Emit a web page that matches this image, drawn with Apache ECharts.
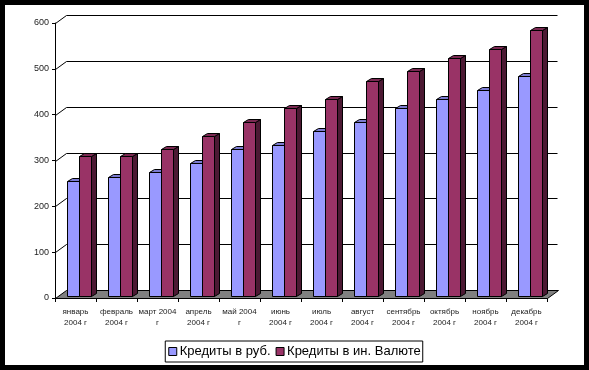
<!DOCTYPE html>
<html>
<head>
<meta charset="utf-8">
<script src="https://cdn.jsdelivr.net/npm/echarts@6/dist/echarts.min.js"></script>
<style>
html,body{margin:0;padding:0;background:#000;}
#paper{position:absolute;left:5px;top:5px;width:579px;height:360px;background:#fff;}
#chart{position:absolute;left:0;top:0;width:589px;height:370px;}
</style>
</head>
<body>
<div id="paper"></div>
<div id="chart"></div>
<script>
const categories = ["январь\n2004 г","февраль\n2004 г","март 2004\nг","апрель\n2004 г","май 2004\nг","июнь\n2004 г","июль\n2004 г","август\n2004 г","сентябрь\n2004 г","октябрь\n2004 г","ноябрь\n2004 г","декабрь\n2004 г"];
const rubCredits = [250,260,270,290,320,330,360,380,410,430,450,480];
const fxCredits = [305,305,320,350,380,410,430,470,490,520,540,580];
const yTicks = [0,100,200,300,400,500,600];
const seriesNames = ["Кредиты в руб.","Кредиты в ин. Валюте"];

const DX = 11, DY = -8;        // wall depth
const BDX = 5, BDY = -3;       // bar depth
const faces = [
  {front:'#9999FF', top:'#7B7BD0', side:'#5C5CA0'},
  {front:'#993366', top:'#7A2952', side:'#4C1933'}
];

function wallItem(params, api){
  const cs = params.coordSys;
  const v = api.value(0);
  const y = Math.round(api.coord([0, v])[1]) + 0.5;
  const x0 = cs.x + 0.5, x1 = cs.x + cs.width + 0.5;
  if (v === 0) {
    return {type:'polygon', shape:{points:[[x0,y],[x1,y],[x1+DX,y+DY],[x0+DX,y+DY]]},
      style:{fill:'#808080', stroke:'#000', lineWidth:1}};
  }
  return {type:'polyline', shape:{points:[[x0,y],[x0+DX,y+DY],[x1+DX-1,y+DY]]},
    style:{fill:null, stroke:'#000', lineWidth:1}};
}

function barRenderer(s){
  return function(params, api){
    const i = api.value(0), v = api.value(1);
    const base = api.coord([i, 0]);
    const topP = api.coord([i, v]);
    const cx = base[0];
    const w = 12;
    const xl = Math.round(cx - 8.5 + s*w) + 0.5;
    const xr = xl + w;
    const yb = Math.round(base[1] - 2) + 0.5;
    const yt = Math.round(topP[1] - 2) + 0.5;
    const f = faces[s];
    const st = {stroke:'#000', lineWidth:1};
    return {type:'group', children:[
      {type:'polygon', shape:{points:[[xr,yt],[xr+BDX,yt+BDY],[xr+BDX,yb+BDY],[xr,yb]]}, style:Object.assign({fill:f.side}, st)},
      {type:'polygon', shape:{points:[[xl,yt],[xl+BDX,yt+BDY],[xr+BDX,yt+BDY],[xr,yt]]}, style:Object.assign({fill:f.top}, st)},
      {type:'rect', shape:{x:xl, y:yt, width:w, height:yb-yt}, style:Object.assign({fill:f.front}, st)}
    ]};
  };
}

const chart = echarts.init(document.getElementById('chart'), null, {renderer:'canvas'});
chart.setOption({
  backgroundColor:'transparent',
  animation:false,
  textStyle:{fontFamily:'Liberation Sans, Arial, sans-serif'},
  grid:{left:55, top:23, width:492, height:275, containLabel:false},
  xAxis:{type:'category', data:categories, boundaryGap:true,
    axisLine:{lineStyle:{color:'#000', width:1}},
    axisTick:{show:true, length:4, lineStyle:{color:'#000'}},
    axisLabel:{fontSize:8, lineHeight:11, color:'#222', margin:8, interval:0},
    splitLine:{show:false}},
  yAxis:{type:'value', min:0, max:600, interval:100,
    axisLine:{show:true, lineStyle:{color:'#000', width:1}},
    axisTick:{show:true, length:3, lineStyle:{color:'#000'}},
    axisLabel:{fontSize:9, color:'#222', margin:6, padding:[2,0,0,0]},
    splitLine:{show:false}},
  legend:{data:seriesNames.map(n=>({name:n, icon:'rect'})), left:'center', top:341,
    orient:'horizontal', itemWidth:8, itemHeight:8, itemGap:5,
    padding:[4,2,4,3], borderColor:'#000', borderWidth:1, backgroundColor:'#fff',
    itemStyle:{borderColor:'#000', borderWidth:1},
    textStyle:{fontSize:13, color:'#000', padding:[0,0,0,-2]}},
  series:[
    {type:'custom', name:'wall', silent:true, z:1, renderItem:wallItem,
      data:yTicks.map(v=>[v]), encode:{y:0}, legendHoverLink:false},
    {type:'custom', name:seriesNames[0], z:3, renderItem:barRenderer(0),
      itemStyle:{color:faces[0].front},
      data:rubCredits.map((v,i)=>[i,v]), encode:{x:0, y:1}},
    {type:'custom', name:seriesNames[1], z:4, renderItem:barRenderer(1),
      itemStyle:{color:faces[1].front},
      data:fxCredits.map((v,i)=>[i,v]), encode:{x:0, y:1}}
  ]
});
</script>
</body>
</html>
